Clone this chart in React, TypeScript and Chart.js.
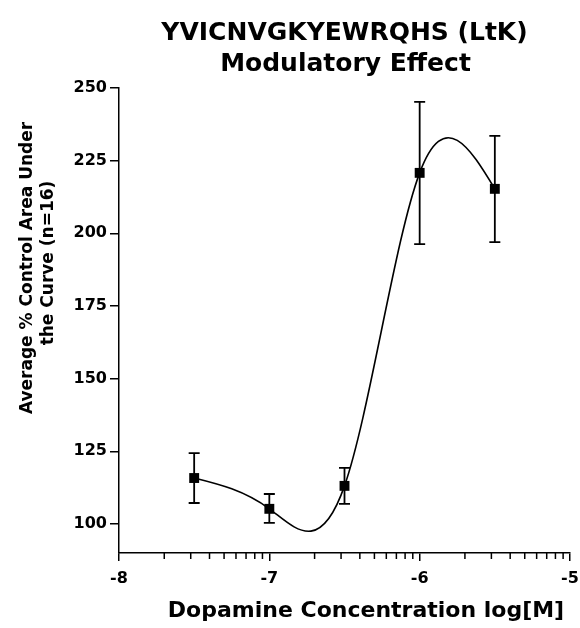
import React, { useEffect, useRef } from "react";
import { Chart, registerables } from "chart.js";

Chart.register(...registerables);

// ---- data ----
const doseLogM = [-7.5, -7, -6.5, -6, -5.5];
const meanAUC = [115.8, 105.2, 113.1, 220.8, 215.3];
const errUpper = [124.4, 110.3, 119.3, 245.2, 233.5];
const errLower = [107.2, 100.4, 106.9, 196.3, 197.0];

const xMajorTicks = [-8, -7, -6, -5];
const xMinorMultipliers = [2, 3, 4, 5, 6, 7, 8, 9];
const yTicks = [100, 125, 150, 175, 200, 225, 250];

const titleLines = ["YVICNVGKYEWRQHS (LtK)", "Modulatory Effect"];
const yTitleLines = ["Average % Control Area Under", "the Curve (n=16)"];
const xTitle = "Dopamine Concentration log[M]";

const FONT = "'DejaVu Sans', 'Liberation Sans', Arial, sans-serif";

// natural cubic spline slopes at each knot (used to build Bezier control points)
function naturalSplineSlopes(xs: number[], ys: number[]): number[] {
  const n = xs.length;
  const h: number[] = [];
  for (let i = 0; i < n - 1; i++) h.push(xs[i + 1] - xs[i]);
  const M = new Array(n).fill(0);
  if (n > 2) {
    const a: number[] = [], b: number[] = [], c: number[] = [], d: number[] = [];
    for (let i = 1; i < n - 1; i++) {
      a.push(h[i - 1]);
      b.push(2 * (h[i - 1] + h[i]));
      c.push(h[i]);
      d.push(6 * ((ys[i + 1] - ys[i]) / h[i] - (ys[i] - ys[i - 1]) / h[i - 1]));
    }
    const m = b.length;
    for (let i = 1; i < m; i++) {
      const w = a[i] / b[i - 1];
      b[i] -= w * c[i - 1];
      d[i] -= w * d[i - 1];
    }
    const sol = new Array(m).fill(0);
    sol[m - 1] = d[m - 1] / b[m - 1];
    for (let i = m - 2; i >= 0; i--) sol[i] = (d[i] - c[i] * sol[i + 1]) / b[i];
    for (let i = 0; i < m; i++) M[i + 1] = sol[i];
  }
  const slopes: number[] = [];
  for (let i = 0; i < n; i++) {
    if (i < n - 1) {
      slopes.push((ys[i + 1] - ys[i]) / h[i] - (h[i] * (2 * M[i] + M[i + 1])) / 6);
    } else {
      slopes.push((ys[i] - ys[i - 1]) / h[i - 1] + (h[i - 1] * (M[i - 1] + 2 * M[i])) / 6);
    }
  }
  return slopes;
}

const overlayPlugin = {
  id: "overlay",
  beforeDatasetsDraw(chart: any) {
    const { ctx, scales } = chart;
    const xs = scales.x;
    const ys = scales.y;
    ctx.save();
    ctx.strokeStyle = "#000";

    // fitted curve (natural cubic spline through the means)
    const slopes = naturalSplineSlopes(doseLogM, meanAUC);
    ctx.lineWidth = 1.6;
    ctx.beginPath();
    ctx.moveTo(xs.getPixelForValue(doseLogM[0]), ys.getPixelForValue(meanAUC[0]));
    for (let i = 0; i < doseLogM.length - 1; i++) {
      const x0 = doseLogM[i], x1 = doseLogM[i + 1];
      const y0 = meanAUC[i], y1 = meanAUC[i + 1];
      const h = x1 - x0;
      ctx.bezierCurveTo(
        xs.getPixelForValue(x0 + h / 3), ys.getPixelForValue(y0 + (slopes[i] * h) / 3),
        xs.getPixelForValue(x1 - h / 3), ys.getPixelForValue(y1 - (slopes[i + 1] * h) / 3),
        xs.getPixelForValue(x1), ys.getPixelForValue(y1)
      );
    }
    ctx.stroke();

    // error bars
    ctx.lineWidth = 1.8;
    const cap = 5.5;
    for (let i = 0; i < doseLogM.length; i++) {
      const px = xs.getPixelForValue(doseLogM[i]);
      const pt = ys.getPixelForValue(errUpper[i]);
      const pb = ys.getPixelForValue(errLower[i]);
      ctx.beginPath();
      ctx.moveTo(px, pt);
      ctx.lineTo(px, pb);
      ctx.moveTo(px - cap, pt);
      ctx.lineTo(px + cap, pt);
      ctx.moveTo(px - cap, pb);
      ctx.lineTo(px + cap, pb);
      ctx.stroke();
    }

    // minor (log) ticks on the x axis
    ctx.lineWidth = 1.5;
    const yAxis = chart.chartArea.bottom;
    ctx.beginPath();
    for (let k = 0; k < xMajorTicks.length - 1; k++) {
      for (const m of xMinorMultipliers) {
        const v = xMajorTicks[k] + Math.log10(m);
        const px = xs.getPixelForValue(v);
        ctx.moveTo(px, yAxis);
        ctx.lineTo(px, yAxis + 6);
      }
    }
    ctx.stroke();
    ctx.restore();
  },
  afterDraw(chart: any) {
    const { ctx, chartArea } = chart;
    const cx = (chartArea.left + chartArea.right) / 2;
    ctx.save();
    ctx.fillStyle = "#000";
    ctx.textAlign = "center";
    ctx.textBaseline = "alphabetic";

    // main title
    ctx.font = `bold 25px ${FONT}`;
    ctx.fillText(titleLines[0], cx, 40);
    ctx.fillText(titleLines[1], cx + 1, 71);

    // x axis title
    ctx.font = `bold 22px ${FONT}`;
    ctx.fillText(xTitle, 366, 617);

    // y axis title (rotated)
    ctx.font = `bold 17px ${FONT}`;
    const yLinePos = [
      { x: 32, y: 268 },
      { x: 53, y: 263 },
    ];
    yTitleLines.forEach((line, i) => {
      ctx.save();
      ctx.translate(yLinePos[i].x, yLinePos[i].y);
      ctx.rotate(-Math.PI / 2);
      ctx.fillText(line, 0, 0);
      ctx.restore();
    });
    ctx.restore();
  },
};

export default function App() {
  const ref = useRef<HTMLCanvasElement>(null);

  useEffect(() => {
    document.body.style.margin = "0";
    const canvas = ref.current;
    if (!canvas) return;
    const tickFont = { family: FONT, size: 16, weight: "bold" as const };
    const chart = new Chart(canvas, {
      type: "scatter",
      data: {
        datasets: [
          {
            data: doseLogM.map((x, i) => ({ x, y: meanAUC[i] })),
            pointStyle: "rect",
            pointRadius: 7,
            pointHoverRadius: 7,
            backgroundColor: "#000",
            borderColor: "#000",
            borderWidth: 0,
            showLine: false,
          },
        ],
      },
      options: {
        animation: false,
        responsive: false,
        devicePixelRatio: 1,
        layout: { padding: { top: 88, right: 10, bottom: 0, left: 0 } },
        plugins: {
          legend: { display: false },
          tooltip: { enabled: false },
          title: { display: false },
        },
        events: [],
        scales: {
          x: {
            type: "linear",
            position: "bottom",
            min: -8,
            max: -5,
            afterBuildTicks: (s: any) => {
              s.ticks = xMajorTicks.map((v) => ({ value: v }));
            },
            afterFit: (s: any) => {
              s.height = 75;
              s.paddingLeft = 0;
              s.paddingRight = 0;
            },
            ticks: {
              font: tickFont,
              color: "#000",
              padding: 8,
              autoSkip: false,
              maxRotation: 0,
              callback: (v: any) => String(v),
            },
            grid: {
              drawOnChartArea: false,
              drawTicks: true,
              tickLength: 8,
              color: "#000",
              lineWidth: 1.5,
            },
            border: { display: true, color: "#000", width: 1.5 },
          },
          y: {
            type: "linear",
            min: 90,
            max: 250,
            afterBuildTicks: (s: any) => {
              s.ticks = yTicks.map((v) => ({ value: v }));
            },
            afterFit: (s: any) => {
              s.width = 119;
              s.paddingTop = 0;
              s.paddingBottom = 0;
            },
            ticks: {
              font: tickFont,
              color: "#000",
              padding: 3,
              autoSkip: false,
              callback: (v: any) => String(v),
            },
            grid: {
              drawOnChartArea: false,
              drawTicks: true,
              tickLength: 9,
              color: "#000",
              lineWidth: 1.5,
            },
            border: { display: true, color: "#000", width: 1.5 },
          },
        },
      },
      plugins: [overlayPlugin],
    });
    return () => chart.destroy();
  }, []);

  return (
    <div style={{ width: 580, height: 628, background: "#fff" }}>
      <canvas ref={ref} width={580} height={628} style={{ display: "block" }} />
    </div>
  );
}
